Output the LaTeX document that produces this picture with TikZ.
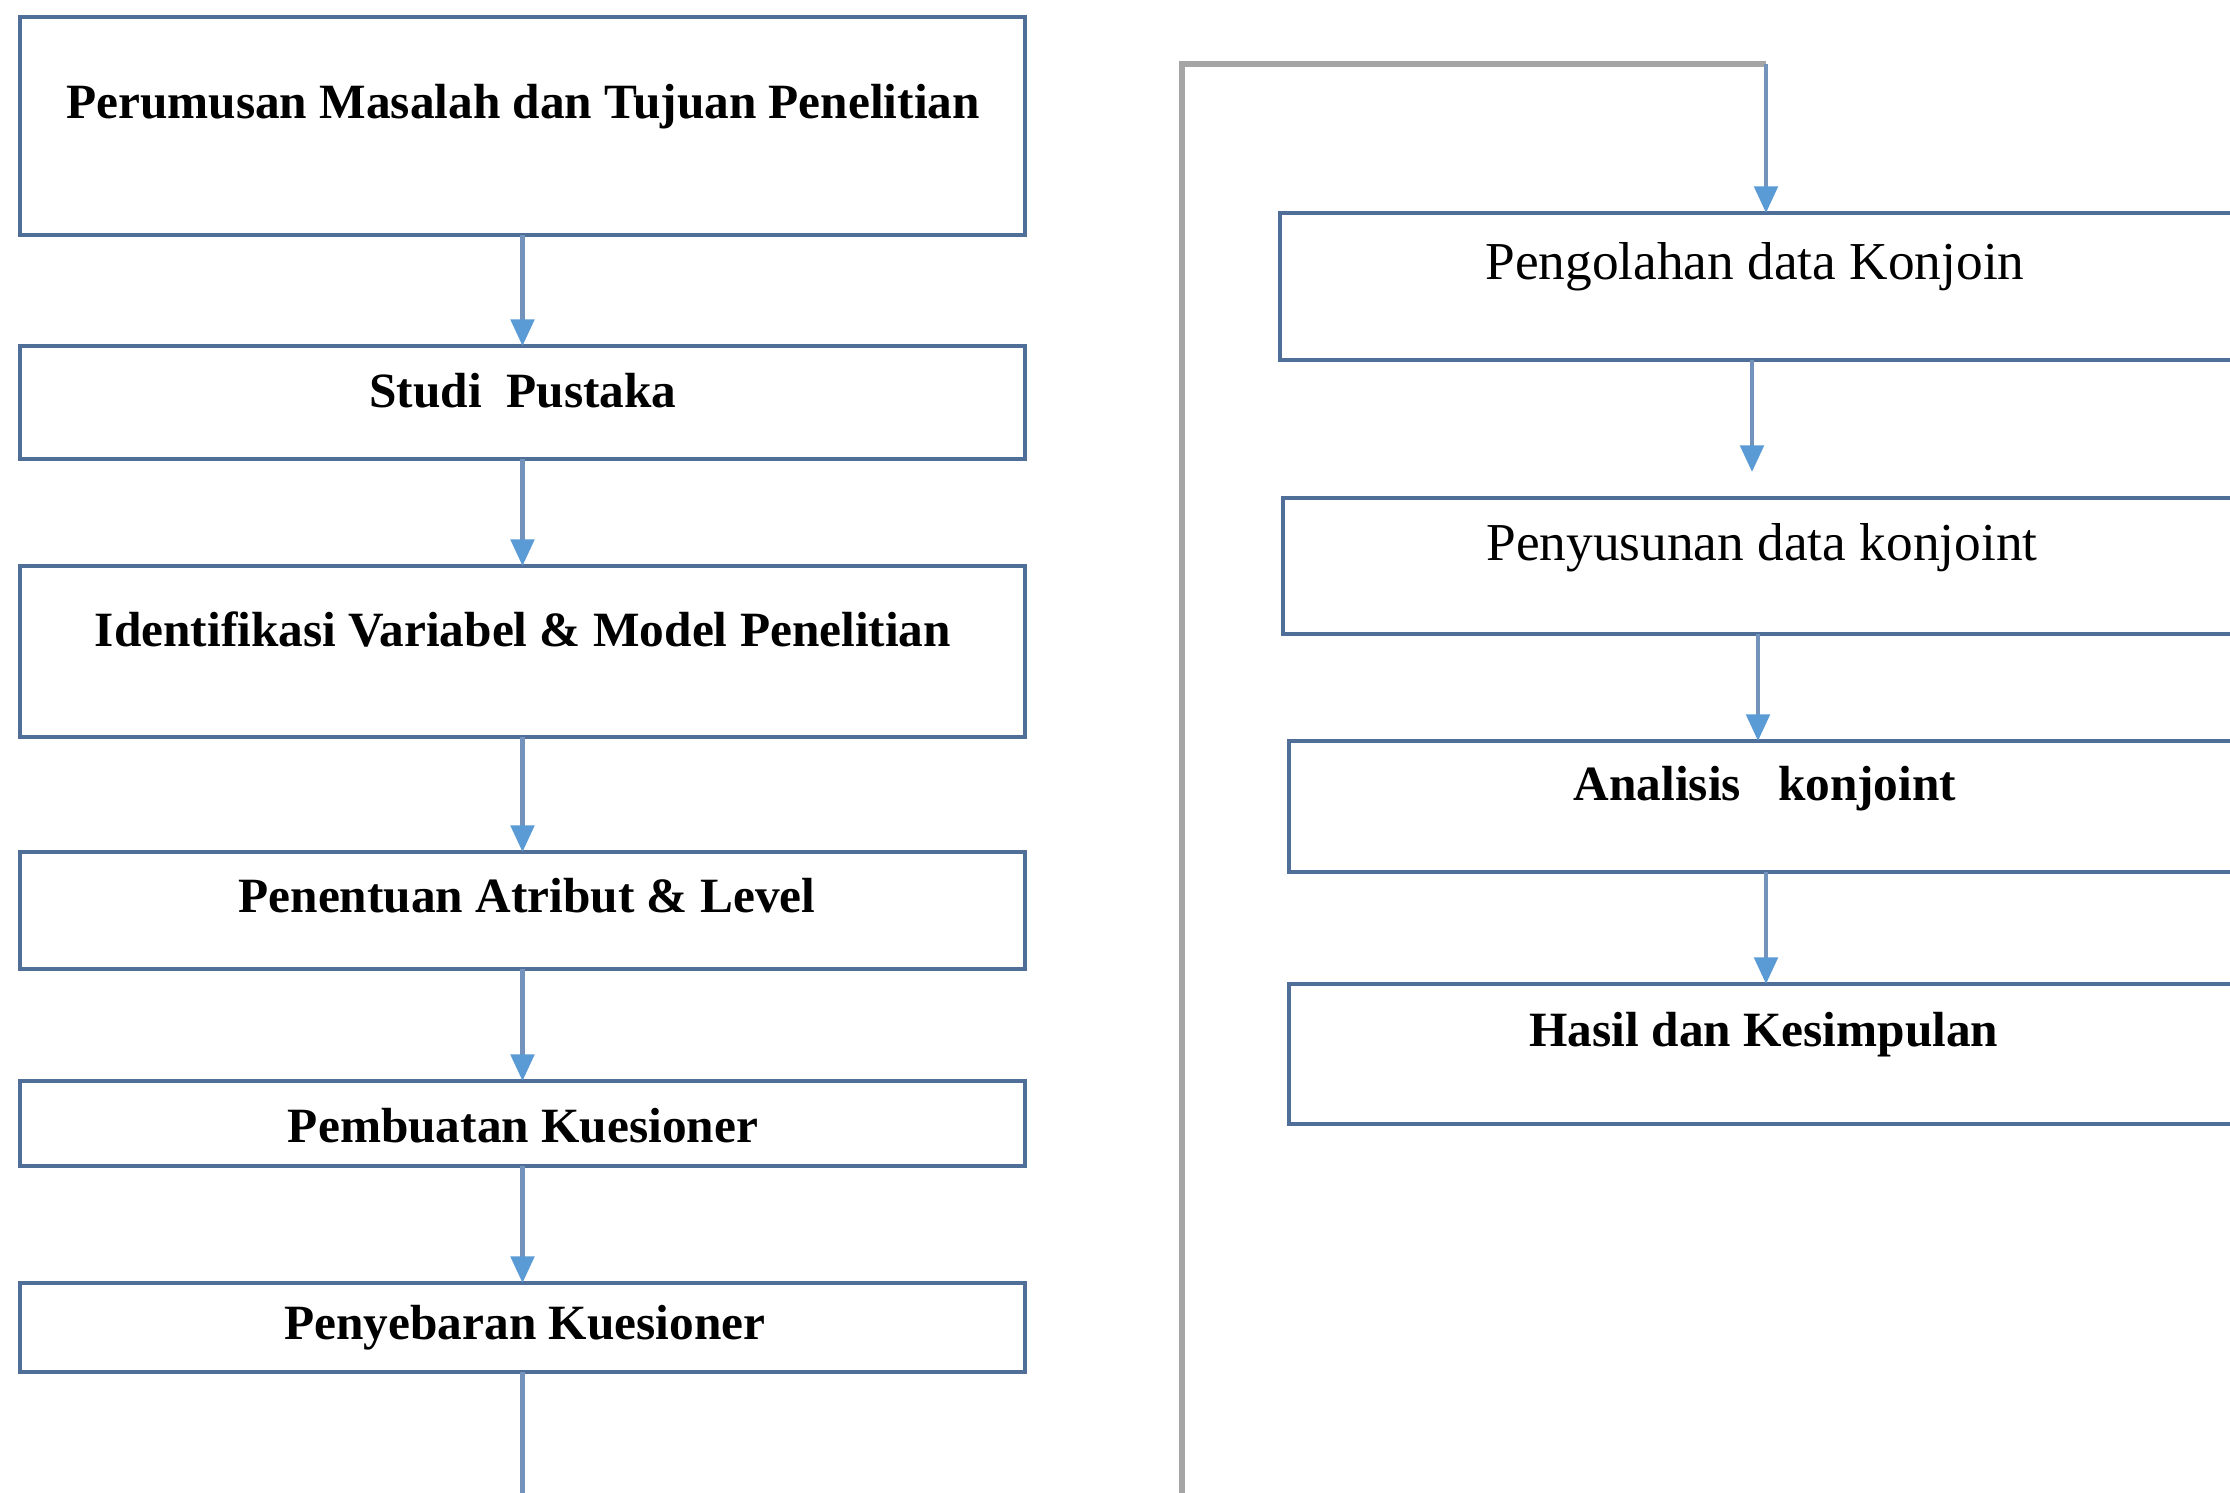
\documentclass[tikz,border=0pt]{standalone}
\usepackage{fontspec}
\setmainfont{Liberation Serif}
\usetikzlibrary{arrows.meta}
\definecolor{boxc}{HTML}{4F6F98}
\definecolor{linec}{HTML}{7393BD}
\definecolor{arrc}{HTML}{5B9BD5}
\definecolor{grayc}{HTML}{A5A5A5}
\begin{document}
\begin{tikzpicture}[x=0.3pt,y=-0.3pt,
 box/.style={draw=boxc,line width=1.2pt,fill=white,inner sep=0pt,outer sep=0pt,rectangle},
 lbl/.style={font=\fontsize{14.8}{17}\selectfont\bfseries,inner sep=0pt},
 lblr/.style={font=\fontsize{16}{18}\selectfont,inner sep=0pt},
 conn/.style={draw=linec,line width=1.3pt,-{Triangle[width=7pt,length=8pt,color=arrc,fill=arrc]}},
 fbline/.style={draw=grayc,line width=1.7pt},
]
\useasboundingbox (0,0) rectangle (2230,1493);
\clip (0,0) rectangle (2230,1493);
\fill[white] (0,0) rectangle (2230,1493);

% left column
\node[box,minimum width=301.5pt,minimum height=65.4pt] (L1) at (522.5,126) {};
\node[lbl] (t1) at (523,107) {Perumusan Masalah dan Tujuan Penelitian};
\node[box,minimum width=301.5pt,minimum height=33.9pt] (L2) at (522.5,402.5) {};
\node[lbl] (t2) at (523,391) {Studi\ \ Pustaka};
\node[box,minimum width=301.5pt,minimum height=51.3pt] (L3) at (522.5,651.5) {};
\node[lbl] (t3) at (523,630) {Identifikasi Variabel \& Model Penelitian};
\node[box,minimum width=301.5pt,minimum height=35.1pt] (L4) at (522.5,910.5) {};
\node[lbl] (t4) at (527,896) {Penentuan Atribut \& Level};
\node[box,minimum width=301.5pt,minimum height=25.5pt] (L5) at (522.5,1123.5) {};
\node[lbl] (t5) at (523,1126) {Pembuatan Kuesioner};
\node[box,minimum width=301.5pt,minimum height=26.7pt] (L6) at (522.5,1327.5) {};
\node[lbl] (t6) at (525,1328) {Penyebaran Kuesioner};

% right column
\node[box,minimum width=297pt,minimum height=44.1pt] (R1) at (1775,286.5) {};
\node[lblr] (r1) at (1755,267) {Pengolahan data Konjoin};
\node[box,minimum width=296.1pt,minimum height=40.8pt] (R2) at (1776.5,566) {};
\node[lblr] (r2) at (1762,548) {Penyusunan data konjoint};
\node[box,minimum width=294.3pt,minimum height=39.3pt] (R3) at (1779.5,806.5) {};
\node[lbl] (r3) at (1765,789) {Analisis\ \ \ konjoint};
\node[box,minimum width=294.3pt,minimum height=42pt] (R4) at (1779.5,1054) {};
\node[lbl] (r4) at (1764,1035) {Hasil dan Kesimpulan};

% left connectors
\draw[conn] (L1.south) -- (L2.north);
\draw[conn] (L2.south) -- (L3.north);
\draw[conn] (L3.south) -- (L4.north);
\draw[conn] (L4.south) -- (L5.north);
\draw[conn] (L5.south) -- (L6.north);

% right connectors
\coordinate (ra1) at (1752,0);
\coordinate (ra2) at (1758,0);
\coordinate (ra3) at (1766,0);
\draw[conn,shorten >=7.8pt] (R1.south -| ra1) -- (R2.north -| ra1);
\draw[conn] (R2.south -| ra2) -- (R3.north -| ra2);
\draw[conn] (R3.south -| ra3) -- (R4.north -| ra3);

% feedback loop
\coordinate (fb1) at (526,1560);
\coordinate (fb2) at (1182,1560);
\coordinate (fb3) at (1182,64);
\coordinate (fb4) at (1766,64);
\draw[draw=linec,line width=1.3pt] (L6.south) -- (L6.south |- fb1);
\draw[fbline] (fb2) -- (fb3) -- (fb4);
\draw[conn] (fb4) -- (R1.north -| fb4);
\end{tikzpicture}
\end{document}
